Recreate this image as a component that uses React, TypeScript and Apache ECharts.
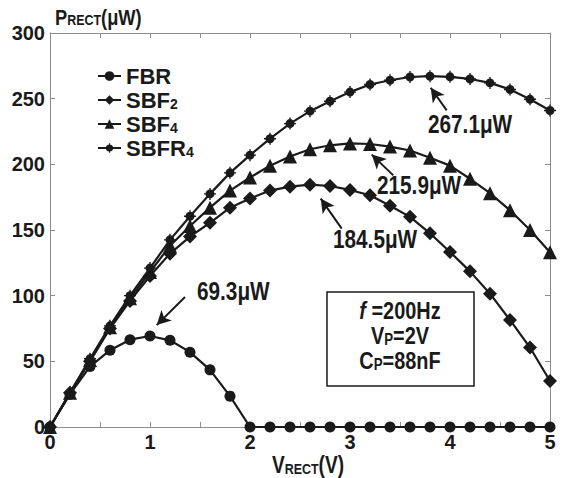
import React, { useEffect, useRef } from 'react';
import * as echarts from 'echarts';

// ---------- data ----------
const xValues = [0, 0.2, 0.4, 0.6, 0.8, 1.0, 1.2, 1.4, 1.6, 1.8, 2.0, 2.2, 2.4, 2.6, 2.8, 3.0, 3.2, 3.4, 3.6, 3.8, 4.0, 4.2, 4.4, 4.6, 4.8, 5.0];
const fbr = [0, 25, 46, 58.5, 66.5, 69.3, 66, 57, 43.5, 23.5, 0, 0, 0, 0, 0, 0, 0, 0, 0, 0, 0, 0, 0, 0, 0, 0];
const sbf2 = [0, 26, 50, 75, 96, 115, 132, 145, 155.5, 167, 174, 180, 183, 184.5, 183.5, 180.5, 176.5, 168.5, 160, 147.5, 133.3, 118.5, 101.5, 81.5, 60.5, 35];
const sbf4 = [0, 26, 51, 76, 98, 118, 138, 153, 167, 180, 190, 199, 206, 211.5, 214.5, 215.9, 215.5, 213.5, 210.5, 205, 199, 189, 178, 165, 150, 133];
const sbfr4 = [0, 26, 52, 77, 100, 121, 142.5, 160.5, 177.5, 193.5, 207, 219.5, 231, 240.5, 248, 255, 260.8, 264, 266.5, 267.1, 266.6, 265, 262, 257, 249.5, 241];

const seriesNames = ['FBR', 'SBF2', 'SBF4', 'SBFR4'];
const legendLabels = ['FBR', 'SBF{s|2}', 'SBF{s|4}', 'SBFR{s|4}'];

// annotation arrows (data coordinates): [tailX, tailY, tipX, tipY]
const arrowLines = [
  [1.35, 99.0, 1.067, 77.6],
  [3.967, 241.1, 3.807, 258.3],
  [3.433, 191.6, 3.217, 207.4],
  [2.917, 151.0, 2.707, 173.9],
];
const peakLabels = ['69.3μW', '267.1μW', '215.9μW', '184.5μW'];

const xTickLabels = ['0', '1', '2', '3', '4', '5'];

const FONT = "'Liberation Sans Narrow', 'Liberation Sans', Arial, sans-serif";
const INK = '#1a1a1a';
const AXIS = '#8c8c8c';
const SQUEEZE = 0.83;

const crossCircle =
  'path://M1.5,6a4.5,4.5 0 1,1 9,0a4.5,4.5 0 1,1 -9,0Z M0,5.3H12V6.7H0Z M5.3,0H6.7V12H5.3Z';

export default function App() {
  const ref = useRef<HTMLDivElement>(null);

  useEffect(() => {
    if (!ref.current) return;
    const chart = echarts.init(ref.current, undefined, { renderer: 'svg' });

    const mk = (ys: number[]) => xValues.map((x, i) => [x, ys[i]]);
    const symbols = ['circle', 'diamond', 'triangle', crossCircle];
    const sizes = [11, 14, 14, 12];
    const datasets = [fbr, sbf2, sbf4, sbfr4];

    const axisCommon = {
      axisLine: { show: true, onZero: false, lineStyle: { color: AXIS, width: 1 } },
      axisTick: { show: true, inside: true, length: 5, lineStyle: { color: AXIS, width: 1 } },
      splitLine: { show: false },
    };
    const labelStyle = {
      fontSize: 20,
      fontWeight: 'bold' as const,
      fontFamily: FONT,
      color: INK,
    };

    const series: any[] = datasets.map((d, i) => ({
      name: seriesNames[i],
      type: 'line',
      data: mk(d),
      symbol: symbols[i],
      symbolSize: sizes[i],
      showSymbol: true,
      lineStyle: { color: INK, width: 2.2 },
      itemStyle: { color: INK },
      z: 2 + i,
    }));

    series[0].markLine = {
      silent: true,
      symbol: ['none', 'arrow'],
      symbolSize: [11, 14],
      label: { show: false },
      lineStyle: { color: INK, width: 2, type: 'solid' },
      data: arrowLines.map((a) => [{ coord: [a[0], a[1]] }, { coord: [a[2], a[3]] }]),
    };

    const tok = (size: number, extra: any = {}) => ({
      fontSize: size,
      fontWeight: 'bold',
      fontFamily: FONT,
      fill: INK,
      lineHeight: size,
      verticalAlign: 'bottom',
      ...extra,
    });

    const labelPos = [
      [197, 291],
      [428, 124],
      [377, 185],
      [333, 239],
    ];

    const graphic: any[] = [
      // y title
      {
        type: 'text',
        x: 55,
        y: 17,
        z: 100,
        scaleX: SQUEEZE,
        style: {
          text: '{b|P}{s|RECT}{b|(μW)}',
          align: 'left',
          verticalAlign: 'middle',
          rich: { b: tok(22), s: tok(15) },
        },
      },
      // x title
      {
        type: 'text',
        x: 272,
        y: 465,
        z: 100,
        scaleX: SQUEEZE,
        style: {
          text: '{b|V}{s|RECT}{b|(V)}',
          align: 'left',
          verticalAlign: 'middle',
          rich: { b: tok(23), s: tok(15) },
        },
      },
      // parameter box
      {
        type: 'rect',
        z: 90,
        shape: { x: 327, y: 292, width: 147, height: 94 },
        style: { fill: '#fff', stroke: INK, lineWidth: 1.5 },
      },
      {
        type: 'text',
        x: 400,
        y: 311,
        z: 100,
        scaleX: SQUEEZE,
        style: {
          text: '{i|f }{b|=200Hz}',
          align: 'center',
          verticalAlign: 'middle',
          rich: { i: tok(24, { fontStyle: 'italic' }), b: tok(24) },
        },
      },
      {
        type: 'text',
        x: 400,
        y: 336,
        z: 100,
        scaleX: SQUEEZE,
        style: {
          text: '{b|V}{s|P}{b|=2V}',
          align: 'center',
          verticalAlign: 'middle',
          rich: { b: tok(24), s: tok(16) },
        },
      },
      {
        type: 'text',
        x: 400,
        y: 361,
        z: 100,
        scaleX: SQUEEZE,
        style: {
          text: '{b|C}{s|P}{b|=88nF}',
          align: 'center',
          verticalAlign: 'middle',
          rich: { b: tok(24), s: tok(16) },
        },
      },
      ...peakLabels.map((t, i) => ({
        type: 'text',
        x: labelPos[i][0],
        y: labelPos[i][1],
        z: 100,
        scaleX: SQUEEZE,
        style: {
          text: t,
          align: 'left',
          verticalAlign: 'middle',
          fontSize: 25,
          fontWeight: 'bold',
          fontFamily: FONT,
          fill: INK,
        },
      })),
    ];

    chart.setOption({
      animation: false,
      backgroundColor: '#fff',
      grid: { left: 50, top: 33, width: 500, height: 394, containLabel: false },
      legend: {
        orient: 'vertical',
        left: 97,
        top: 65,
        padding: 0,
        itemWidth: 23,
        itemHeight: 12,
        itemGap: 2,
        data: seriesNames,
        formatter: (name: string) => legendLabels[seriesNames.indexOf(name)],
        textStyle: {
          fontSize: 22,
          fontWeight: 'bold',
          fontFamily: FONT,
          color: INK,
          lineHeight: 22,
          rich: {
            s: {
              fontSize: 14,
              fontWeight: 'bold',
              fontFamily: FONT,
              color: INK,
              lineHeight: 14,
              verticalAlign: 'bottom',
            },
          },
        },
      },
      xAxis: [
        {
          type: 'value',
          min: 0,
          max: 5,
          interval: 0.5,
          position: 'bottom',
          ...axisCommon,
          axisLabel: {
            ...labelStyle,
            margin: 5,
            formatter: (v: number) => (Number.isInteger(v) ? xTickLabels[v] : ''),
          },
        },
        {
          type: 'value',
          min: 0,
          max: 5,
          interval: 0.5,
          position: 'top',
          ...axisCommon,
          axisLabel: { show: false },
        },
      ],
      yAxis: [
        {
          type: 'value',
          min: 0,
          max: 300,
          interval: 50,
          position: 'left',
          ...axisCommon,
          axisLabel: { ...labelStyle, margin: 5 },
        },
        {
          type: 'value',
          min: 0,
          max: 300,
          interval: 50,
          position: 'right',
          ...axisCommon,
          axisLabel: { show: false },
        },
      ],
      series,
      graphic,
    });

    return () => chart.dispose();
  }, []);

  return (
    <div
      ref={ref}
      style={{ position: 'fixed', left: 0, top: 0, width: 574, height: 478, background: '#fff' }}
    />
  );
}
